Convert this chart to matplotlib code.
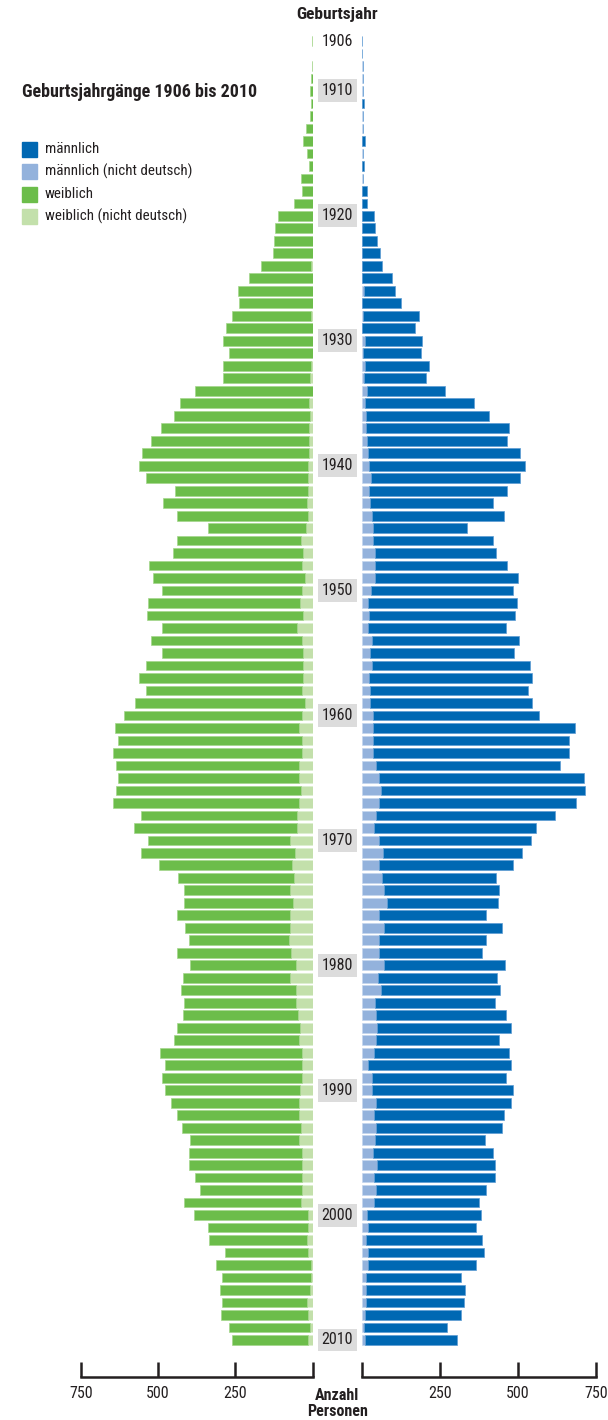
import matplotlib
matplotlib.use('Agg')
import matplotlib.pyplot as plt
from matplotlib.patches import Rectangle
from matplotlib.transforms import blended_transform_factory

plt.rcParams['font.family'] = ['Roboto Condensed', 'Asap Condensed', 'Barlow Semi Condensed', 'DejaVu Sans']

# Geburtsjahre 1906 .. 2010
years = list(range(1906, 2011))

# weiblich insgesamt (inkl. nicht deutsch)
female_total = [
    3, 0, 3, 5, 8, 7, 10, 21, 30, 18,
    12, 37, 33, 62, 112, 122, 124, 129, 167, 207,
    242, 238, 261, 279, 291, 269, 291, 291, 379, 428,
    447, 491, 524, 552, 560, 540, 444, 484, 438, 338,
    438, 453, 528, 516, 487, 533, 537, 487, 522, 487,
    540, 560, 540, 576, 609, 640, 629, 644, 637, 629,
    637, 647, 556, 578, 534, 556, 497, 435, 417, 417,
    440, 413, 401, 439, 398, 419, 425, 417, 419, 440,
    450, 494, 478, 488, 478, 457, 438, 423, 398, 400,
    400, 379, 364, 417, 383, 339, 336, 285, 311, 292,
    299, 292, 296, 270, 262,
]
# weiblich (nicht deutsch)
female_foreign = [
    3, 0, 3, 0, 0, 0, 0, 0, 0, 0,
    0, 0, 0, 0, 0, 0, 0, 0, 5, 0,
    0, 0, 5, 0, 0, 0, 5, 8, 0, 12,
    8, 12, 11, 12, 16, 16, 16, 20, 16, 23,
    39, 30, 33, 26, 33, 41, 30, 51, 35, 30,
    30, 30, 33, 26, 35, 43, 33, 36, 45, 43,
    39, 45, 51, 51, 72, 58, 68, 61, 73, 65,
    74, 74, 78, 69, 55, 72, 53, 55, 49, 40,
    45, 34, 36, 34, 40, 45, 43, 39, 45, 36,
    33, 34, 36, 39, 16, 16, 19, 16, 4, 6,
    10, 18, 14, 10, 14,
]
# männlich insgesamt (inkl. nicht deutsch)
male_total = [
    0, 0, 3, 3, 3, 7, 3, 3, 11, 3,
    5, 3, 15, 17, 38, 42, 49, 57, 64, 95,
    106, 125, 184, 171, 193, 190, 215, 206, 265, 360,
    407, 472, 464, 506, 521, 506, 464, 419, 454, 335,
    419, 431, 464, 500, 484, 496, 491, 460, 504, 488,
    538, 544, 531, 546, 568, 683, 665, 665, 635, 713,
    716, 685, 619, 558, 543, 513, 484, 431, 440, 436,
    398, 450, 398, 385, 459, 434, 441, 425, 463, 478,
    440, 471, 478, 463, 484, 478, 456, 450, 394, 419,
    425, 425, 398, 376, 381, 364, 385, 391, 366, 316,
    329, 326, 316, 274, 306,
]
# männlich (nicht deutsch)
male_foreign = [
    0, 0, 3, 3, 3, 0, 3, 3, 0, 3,
    0, 3, 0, 0, 0, 0, 0, 0, 0, 0,
    6, 0, 4, 0, 11, 4, 9, 5, 16, 11,
    14, 14, 16, 20, 24, 29, 22, 26, 31, 35,
    35, 41, 41, 41, 29, 19, 22, 19, 31, 26,
    31, 22, 26, 26, 35, 35, 34, 34, 44, 56,
    60, 53, 44, 38, 56, 66, 53, 63, 69, 81,
    56, 71, 56, 56, 69, 50, 60, 41, 44, 48,
    44, 38, 19, 31, 31, 44, 38, 44, 41, 35,
    48, 38, 44, 38, 16, 19, 12, 19, 19, 12,
    12, 12, 10, 6, 11,
]

year_labels = [1906] + list(range(1910, 2011, 10))
ticks = [0, 250, 500, 750]
tick_labels = ['', '250', '500', '750']

c_m = '#0068b3'
c_m_nd = '#93b2dc'
c_w = '#6cbd4a'
c_w_nd = '#c3e0ab'
c_text = '#231f20'

W, H = 608, 1420
fig = plt.figure(figsize=(W / 100, H / 100), dpi=100)

# axes position in pixels (row 1906 at y=41, 2010 at y=1340)
row_h = (1340 - 41) / 104
y_top = 41 - row_h / 2
y_bot = 1340 + row_h / 2
b = 1 - y_bot / H
h = (y_bot - y_top) / H
ax_w = fig.add_axes([80.7 / W, b, (312.7 - 80.7) / W, h])
ax_m = fig.add_axes([362.0 / W, b, (596.0 - 362.0) / W, h])

bh = 0.78
w_de = [t - f for t, f in zip(female_total, female_foreign)]
m_de = [t - f for t, f in zip(male_total, male_foreign)]
ax_w.barh(years, female_foreign, height=bh, color=c_w_nd, edgecolor='#dcefd0', linewidth=0.5)
ax_w.barh(years, w_de, left=female_foreign, height=bh, color=c_w, edgecolor='#a4d68c', linewidth=0.5)
ax_m.barh(years, male_foreign, height=bh, color=c_m_nd, edgecolor='#c4d6ee', linewidth=0.5)
ax_m.barh(years, m_de, left=male_foreign, height=bh, color=c_m, edgecolor='#5d9bd3', linewidth=0.5)

ax_w.set_xlim(750, 0)
ax_m.set_xlim(0, 750)
for ax in (ax_w, ax_m):
    ax.set_ylim(2010.5, 1905.5)
    ax.set_yticks([])
    for s in ('top', 'left', 'right'):
        ax.spines[s].set_visible(False)
    ax.spines['bottom'].set_position(('outward', 22.5))
    ax.spines['bottom'].set_linewidth(1.8)
    ax.spines['bottom'].set_color(c_text)
    ax.spines['bottom'].set_capstyle('projecting')
    ax.set_xticks(ticks)
    ax.set_xticklabels(tick_labels)
    ax.tick_params(axis='x', direction='in', length=10.8, width=1.8, color=c_text,
                   labelsize=11.5, labelcolor=c_text, pad=6)
    ax.patch.set_visible(False)

# Geburtsjahr labels in the middle column
tr = blended_transform_factory(fig.transFigure, ax_w.transData)
xc = 337.4 / W
for yr in year_labels:
    if yr == 1906:
        ax_w.text(xc, yr, str(yr), transform=tr, ha='center', va='center',
                  fontsize=11.5, color=c_text, clip_on=False)
    else:
        ax_w.text(xc, yr, str(yr), transform=tr, ha='center', va='center',
                  fontsize=11.5, color=c_text, clip_on=False,
                  bbox=dict(boxstyle='square,pad=0.25', fc='#dcdcdc', ec='none'))

fig.text(xc, 1 - 15 / H, 'Geburtsjahr', ha='center', va='center',
         fontsize=12.5, fontweight='bold', color=c_text)
fig.text(22 / W, 1 - 92 / H, 'Geburtsjahrgänge 1906 bis 2010', ha='left', va='center',
         fontsize=13, fontweight='bold', color=c_text)
fig.text(xc, 1 - 1395 / H, 'Anzahl', ha='center', va='center',
         fontsize=11.5, fontweight='bold', color=c_text)
fig.text(xc, 1 - 1411 / H, 'Personen', ha='center', va='center',
         fontsize=11.5, fontweight='bold', color=c_text)

# legend
legend_items = [('männlich', c_m), ('männlich (nicht deutsch)', c_m_nd),
                ('weiblich', c_w), ('weiblich (nicht deutsch)', c_w_nd)]
for i, (name, col) in enumerate(legend_items):
    yc = 149 + i * 22.5
    fig.patches.append(Rectangle((22 / W, 1 - (yc + 7.5) / H), 15 / W, 15 / H,
                                 transform=fig.transFigure, color=col))
    fig.text(45 / W, 1 - yc / H, name, ha='left', va='center',
             fontsize=10.8, color=c_text)

fig.savefig('out.png', dpi=100)
